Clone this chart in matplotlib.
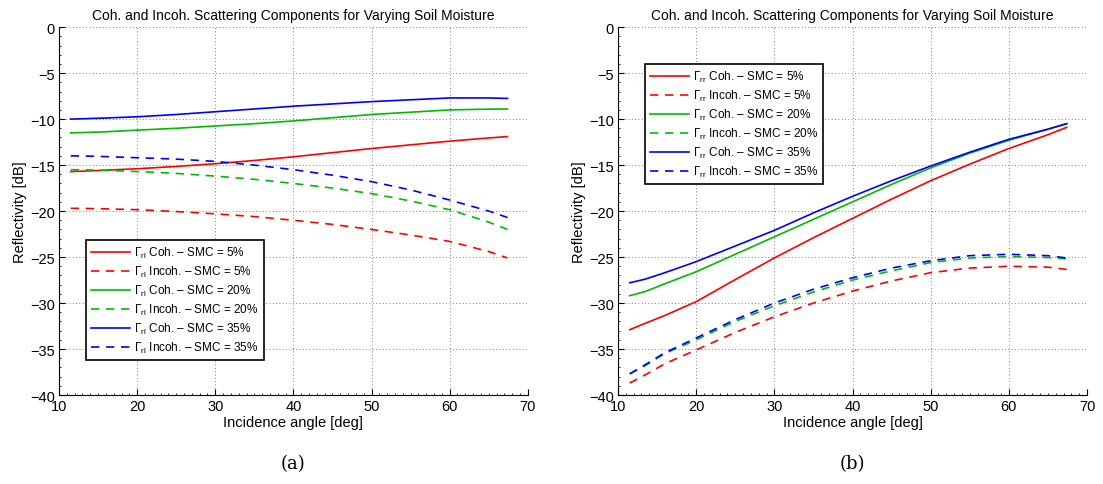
import matplotlib
matplotlib.use('Agg')
import matplotlib.pyplot as plt
from matplotlib.ticker import MultipleLocator

plt.rcParams['font.family'] = ['Liberation Sans', 'DejaVu Sans']
plt.rcParams['mathtext.fontset'] = 'custom'
plt.rcParams['mathtext.rm'] = 'Liberation Sans'
plt.rcParams['mathtext.it'] = 'Liberation Sans:italic'

# incidence angles [deg]
theta = [11.5, 13.5, 16, 20, 25, 30, 35, 40, 45, 50, 55, 60, 65, 67.4]

# (a) Gamma_rl
rl_coh_5 = [-15.7, -15.65, -15.55, -15.4, -15.15, -14.85, -14.5, -14.1, -13.65, -13.2, -12.8, -12.4, -12.05, -11.9]
rl_inc_5 = [-19.7, -19.72, -19.76, -19.85, -20.05, -20.3, -20.6, -21.0, -21.45, -22.0, -22.6, -23.3, -24.4, -25.1]
rl_coh_20 = [-11.5, -11.45, -11.38, -11.2, -11.0, -10.75, -10.5, -10.2, -9.85, -9.5, -9.25, -9.0, -8.92, -8.9]
rl_inc_20 = [-15.5, -15.52, -15.58, -15.7, -15.9, -16.2, -16.55, -17.0, -17.5, -18.1, -18.9, -19.85, -21.2, -22.0]
rl_coh_35 = [-10.0, -9.95, -9.88, -9.75, -9.5, -9.2, -8.9, -8.6, -8.35, -8.1, -7.9, -7.7, -7.7, -7.75]
rl_inc_35 = [-14.0, -14.02, -14.08, -14.2, -14.35, -14.6, -15.0, -15.5, -16.1, -16.8, -17.7, -18.8, -20.0, -20.7]

# (b) Gamma_rr
rr_coh_5 = [-32.9, -32.2, -31.35, -29.85, -27.45, -25.1, -22.9, -20.8, -18.7, -16.7, -14.9, -13.2, -11.7, -10.9]
rr_inc_5 = [-38.7, -37.8, -36.6, -35.1, -33.2, -31.5, -30.0, -28.7, -27.6, -26.7, -26.2, -26.0, -26.1, -26.35]
rr_coh_20 = [-29.2, -28.75, -27.9, -26.6, -24.7, -22.8, -20.9, -19.0, -17.1, -15.3, -13.7, -12.3, -11.1, -10.5]
rr_inc_20 = [-37.7, -36.8, -35.5, -34.0, -32.0, -30.3, -28.8, -27.5, -26.5, -25.6, -25.1, -24.95, -25.05, -25.2]
rr_coh_35 = [-27.8, -27.4, -26.7, -25.5, -23.8, -22.1, -20.2, -18.4, -16.7, -15.1, -13.6, -12.2, -11.1, -10.5]
rr_inc_35 = [-37.7, -36.7, -35.4, -33.8, -31.8, -30.0, -28.5, -27.25, -26.2, -25.4, -24.85, -24.7, -24.85, -25.1]

smc = ['5%', '20%', '35%']
colors = ['#ff0000', '#00bb00', '#0000ff']

fig = plt.figure(figsize=(11.03, 4.85), dpi=100)
ax1 = fig.add_axes([0.0535, 0.1835, 0.425, 0.7585])
ax2 = fig.add_axes([0.5603, 0.1835, 0.4252, 0.7585])

panels = [
    (ax1, 'rl', [rl_coh_5, rl_coh_20, rl_coh_35], [rl_inc_5, rl_inc_20, rl_inc_35], '(a)'),
    (ax2, 'rr', [rr_coh_5, rr_coh_20, rr_coh_35], [rr_inc_5, rr_inc_20, rr_inc_35], '(b)'),
]

for ax, sub, coh, inc, tag in panels:
    for i in range(3):
        ax.plot(theta, coh[i], color=colors[i], linestyle='-', linewidth=1.2,
                label=r'$\mathrm{\Gamma}_{\mathrm{%s}}$ Coh. – SMC = %s' % (sub, smc[i]))
        ax.plot(theta, inc[i], color=colors[i], linestyle=(0, (5, 4)), linewidth=1.2,
                label=r'$\mathrm{\Gamma}_{\mathrm{%s}}$ Incoh. – SMC = %s' % (sub, smc[i]))
    ax.set_xlim(10, 70)
    ax.set_ylim(-40, 0)
    ax.set_xticks(range(10, 71, 10))
    ax.set_yticks(range(-40, 1, 5))
    ax.set_yticklabels(['\u2212%d' % (-v) if v < 0 else '0' for v in range(-40, 1, 5)])
    ax.xaxis.set_minor_locator(MultipleLocator(1))
    ax.yaxis.set_minor_locator(MultipleLocator(1))
    ax.tick_params(which='major', direction='in', length=4, labelsize=10.5, pad=3)
    ax.tick_params(which='minor', direction='in', length=1.2, width=0.6)
    ax.spines['top'].set_visible(False)
    ax.spines['right'].set_visible(False)
    ax.grid(True, linestyle=(0, (1, 3)), color='#555555', linewidth=0.6)
    ax.set_title('Coh. and Incoh. Scattering Components for Varying Soil Moisture', fontsize=10, pad=6)
    ax.set_xlabel('Incidence angle [deg]', fontsize=10.5, labelpad=1)
    ax.set_ylabel('Reflectivity [dB]', fontsize=10.5, labelpad=2)
    ax.text(0.5, -0.16, tag, transform=ax.transAxes, ha='center', va='top',
            fontsize=13, family='DejaVu Serif')

leg_kw = dict(fontsize=8.5, handlelength=3.3, handletextpad=0.4, labelspacing=0.33,
              fancybox=False, edgecolor='black', framealpha=1, borderpad=0.4)
l1 = ax1.legend(loc='lower left', bbox_to_anchor=(0.045, 0.08), **leg_kw)
l2 = ax2.legend(loc='upper left', bbox_to_anchor=(0.045, 0.915), **leg_kw)
for l in (l1, l2):
    l.get_frame().set_linewidth(1.2)

fig.savefig('out.png', dpi=100)
